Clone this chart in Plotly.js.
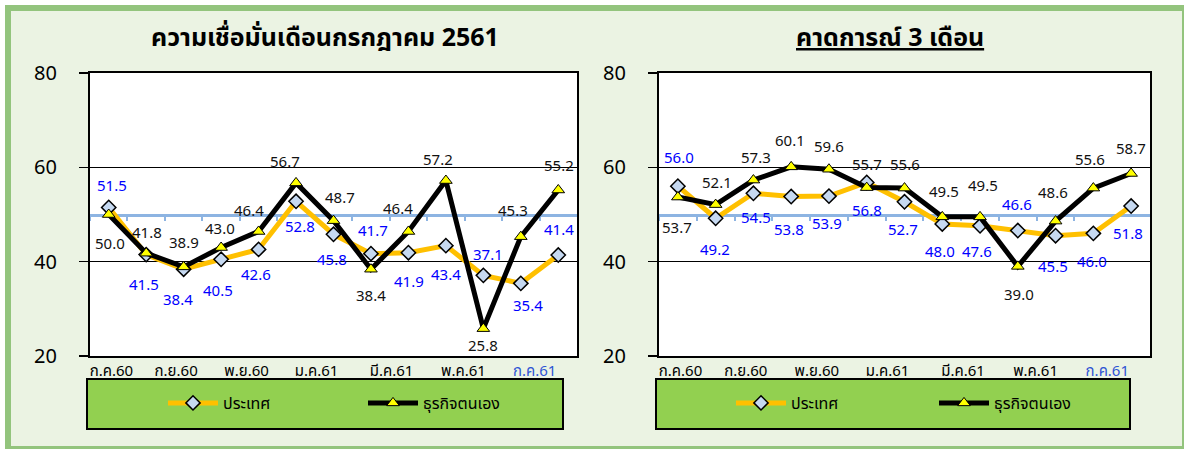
<!DOCTYPE html>
<html>
<head>
<meta charset="utf-8">
<script src="https://cdn.plot.ly/plotly-3.0.1.min.js"></script>
<style>
  html, body { margin: 0; padding: 0; background: #ffffff; }
  #frame { position: absolute; left: 5px; top: 5px; width: 1183px; height: 447px;
           box-sizing: border-box; border: 6px solid #93C47D; background: #EBF3E3; }
  #chart { position: absolute; left: 0; top: 0; width: 1184px; height: 449px; }
</style>
</head>
<body>
<div id="frame"></div>
<div id="chart"></div>
<script>
// ---------- data ----------
const months = ['ก.ค.60','ส.ค.60','ก.ย.60','ต.ค.60','พ.ย.60','ธ.ค.60','ม.ค.61','ก.พ.61','มี.ค.61','เม.ย.61','พ.ค.61','มิ.ย.61','ก.ค.61'];
const tickLabels = ['ก.ค.60','ก.ย.60','พ.ย.60','ม.ค.61','มี.ค.61','พ.ค.61','ก.ค.61'];
const seriesNames = ['ประเทศ','ธุรกิจตนเอง'];
const titleLeft = 'ความเชื่อมั่นเดือนกรกฎาคม 2561';
const titleRight = 'คาดการณ์ 3 เดือน';

// ความเชื่อมั่น (current)
const nowCountry  = [51.5, 41.5, 38.4, 40.5, 42.6, 52.8, 45.8, 41.7, 41.9, 43.4, 37.1, 35.4, 41.4];
const nowBusiness = [50.0, 41.8, 38.9, 43.0, 46.4, 56.7, 48.7, 38.4, 46.4, 57.2, 25.8, 45.3, 55.2];
// คาดการณ์ 3 เดือน (expectation)
const expCountry  = [56.0, 49.2, 54.5, 53.8, 53.9, 56.8, 52.7, 48.0, 47.6, 46.6, 45.5, 46.0, 51.8];
const expBusiness = [53.7, 52.1, 57.3, 60.1, 59.6, 55.7, 55.6, 49.5, 49.5, 39.0, 48.6, 55.6, 58.7];
const neutralLevel = 50;

// ---------- label placement (pixel offsets: [dx, dy], dy>0 = down) ----------
const offNowCountry  = [[3,-21],[-2,31],[-6,31],[-3,32],[-3,26],[4,26],[-2,26],[2,-22],[1,30],[0,30],[5,-20],[7,23],[1,-25]];
const offNowBusiness = [[1,30],[1,-20],[0,-23],[-1,-18],[-10,-20],[-11,-20],[6,-22],[0,27],[-10,-22],[-8,-20],[0,18],[-8,-25],[1,-23]];
const offExpCountry  = [[1,-28],[-1,32],[3,25],[-2,34],[-2,28],[0,29],[-2,29],[-2,29],[-3,27],[-1,-25],[-3,32],[-1,29],[-3,28]];
const offExpBusiness = [[-1,31],[1,-21],[3,-22],[-1,-25],[0,-22],[0,-22],[0,-23],[2,-24],[3,-30],[1,29],[-3,-28],[-3,-28],[0,-24]];
const tickPos = [0.07, 1.8, 3.68, 5.55, 7.55, 9.47, 11.37];

// ---------- styles ----------
const FONT = 'Tahoma, "Noto Sans Thai", "DejaVu Sans", "Noto Sans", sans-serif';
const ORANGE = '#FFC000', BLACK = '#000000', BLUE_TXT = '#0000FF', NEUTRAL = '#8DB4E2';
const idx = months.map((m, i) => i);
const xr = [-0.5, months.length - 0.5];

function countryTrace(vals, xa, ya, legend) {
  return { x: idx, y: vals, xaxis: xa, yaxis: ya, type: 'scatter', mode: 'lines+markers',
    name: seriesNames[0], legend: legend,
    line: { color: ORANGE, width: 5 },
    marker: { symbol: 'diamond', size: 11, color: '#C6D9F1', line: { color: '#000', width: 1.5 } },
    hoverinfo: 'skip' };
}
function businessTrace(vals, xa, ya, legend) {
  return { x: idx, y: vals, xaxis: xa, yaxis: ya, type: 'scatter', mode: 'lines+markers',
    name: seriesNames[1], legend: legend,
    line: { color: BLACK, width: 5 },
    marker: { symbol: 'triangle-up', size: 11, color: '#FFFF00', line: { color: '#000', width: 1 } },
    hoverinfo: 'skip' };
}
const data = [
  countryTrace(nowCountry, 'x', 'y', 'legend'),
  businessTrace(nowBusiness, 'x', 'y', 'legend'),
  countryTrace(expCountry, 'x2', 'y2', 'legend2'),
  businessTrace(expBusiness, 'x2', 'y2', 'legend2'),
  { x: [], y: [], xaxis: 'x3', yaxis: 'y', showlegend: false },
  { x: [], y: [], xaxis: 'x4', yaxis: 'y2', showlegend: false }
];

function labels(vals, offs, xref, yref, color) {
  return vals.map((v, i) => ({
    x: i, y: v, xref: xref, yref: yref, text: v.toFixed(1), showarrow: false,
    xshift: offs[i][0], yshift: -offs[i][1],
    font: { family: FONT, size: 15, color: color }
  }));
}

const tickText = tickLabels.map((t, i) => i === tickLabels.length - 1 ? '<span style="color:#2F55D4">' + t + '</span>' : t);

function xAxis(domain) {
  return { domain: domain, range: xr, showgrid: false, zeroline: false,
    showline: true, mirror: true, linecolor: '#000', linewidth: 2, ticks: '',
    tickmode: 'array', tickvals: tickPos, ticktext: tickText,
    tickfont: { family: FONT, size: 15, color: '#000' }, fixedrange: true };
}
function yAxis(anchor) {
  return { anchor: anchor, domain: [0, 1], range: [20, 80], tickvals: [20, 40, 60, 80],
    showgrid: true, gridcolor: '#000', gridwidth: 1.5, zeroline: false,
    showline: true, mirror: true, linecolor: '#000', linewidth: 2,
    ticks: 'outside', ticklen: 9, tickwidth: 1.5, tickcolor: '#000', ticklabelstandoff: 18,
    tickfont: { family: FONT, size: 20, color: '#000' }, fixedrange: true };
}
function neutralAxis(over, domain) {
  return { overlaying: over, anchor: 'free', position: (neutralLevel - 20) / 60, domain: domain,
    range: xr, showgrid: false, zeroline: false, showticklabels: false,
    showline: true, linecolor: NEUTRAL, linewidth: 3, layer: 'below traces',
    ticks: 'outside', ticklen: 4, tickwidth: 2, tickcolor: NEUTRAL,
    tickmode: 'array', tickvals: idx.map(i => i - 0.5), fixedrange: true };
}

const ML = 90, MR = 34, MT = 73, MB = 93, W = 1184, H = 449;
const PW = W - ML - MR, PH = H - MT - MB;
const px = v => (v - ML) / PW;          // pixel -> paper x
const py = v => (H - MB - v) / PH;      // pixel -> paper y
const domL = [0, px(577)], domR = [px(659), 1];

const layout = {
  width: W, height: H, margin: { l: ML, r: MR, t: MT, b: MB, pad: 0, autoexpand: false },
  paper_bgcolor: 'rgba(0,0,0,0)', plot_bgcolor: '#FFFFFF',
  font: { family: FONT, color: '#000' },
  xaxis: xAxis(domL), yaxis: yAxis('x'),
  xaxis2: Object.assign(xAxis(domR), { anchor: 'y2' }), yaxis2: yAxis('x2'),
  xaxis3: neutralAxis('x', domL), xaxis4: neutralAxis('x2', domR),
  showlegend: true,
  legend: { orientation: 'h', x: px(163), xanchor: 'left', y: py(403), yanchor: 'middle',
    bgcolor: 'rgba(0,0,0,0)', borderwidth: 0, entrywidth: 135, entrywidthmode: 'pixels',
    itemwidth: 50, font: { family: FONT, size: 16, color: '#000' }, itemclick: false },
  legend2: { orientation: 'h', x: px(731), xanchor: 'left', y: py(403), yanchor: 'middle',
    bgcolor: 'rgba(0,0,0,0)', borderwidth: 0, entrywidth: 138, entrywidthmode: 'pixels',
    itemwidth: 50, font: { family: FONT, size: 16, color: '#000' }, itemclick: false },
  shapes: [
    { type: 'rect', xref: 'paper', yref: 'paper', x0: px(87), x1: px(563), y0: py(379), y1: py(429),
      fillcolor: '#92D050', line: { color: '#000', width: 2 }, layer: 'below' },
    { type: 'rect', xref: 'paper', yref: 'paper', x0: px(656), x1: px(1130), y0: py(379), y1: py(429),
      fillcolor: '#92D050', line: { color: '#000', width: 2 }, layer: 'below' }
  ],
  annotations: [].concat(
    labels(nowCountry, offNowCountry, 'x', 'y', BLUE_TXT),
    labels(nowBusiness, offNowBusiness, 'x', 'y', '#111'),
    labels(expCountry, offExpCountry, 'x2', 'y2', BLUE_TXT),
    labels(expBusiness, offExpBusiness, 'x2', 'y2', '#111'),
    [
      { xref: 'paper', yref: 'paper', x: px(325), y: py(38), text: '<b>' + titleLeft + '</b>', showarrow: false,
        xanchor: 'center', yanchor: 'middle', font: { family: FONT, size: 25, color: '#000' } },
      { xref: 'paper', yref: 'paper', x: px(890), y: py(38), text: '<b><u>' + titleRight + '</u></b>', showarrow: false,
        xanchor: 'center', yanchor: 'middle', font: { family: FONT, size: 25, color: '#000' } }
    ]
  )
};

Plotly.newPlot('chart', data, layout, { staticPlot: true, displayModeBar: false });
</script>
</body>
</html>
